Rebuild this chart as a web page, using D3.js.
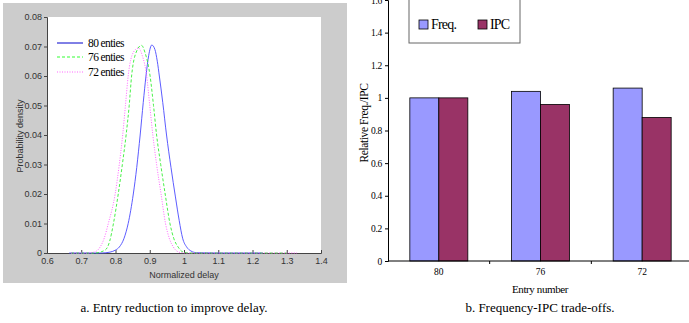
<!DOCTYPE html>
<html>
<head>
<meta charset="utf-8">
<script src="https://cdn.jsdelivr.net/npm/d3@7"></script>
<style>
  body { margin: 0; background: #fff; }
  svg { display: block; }
</style>
</head>
<body>
<svg id="chart" width="689" height="323"></svg>
<script>
// ---- left panel: probability density curves ----
const seriesNames = ["80 enties", "76 enties", "72 enties"];
const curve80 = [[0.665,0],[0.76,0],[0.784,0.0003],[0.80,0.001],[0.811,0.002],[0.825,0.005],[0.837,0.010],[0.852,0.020],[0.862,0.029],[0.872,0.040],[0.881,0.051],[0.889,0.060],[0.897,0.067],[0.906,0.0705],[0.915,0.069],[0.922,0.065],[0.928,0.060],[0.938,0.051],[0.949,0.040],[0.962,0.029],[0.975,0.019],[0.986,0.011],[0.996,0.005],[1.008,0.002],[1.02,0.0007],[1.037,0.0001],[1.10,0],[1.23,0]];
const curve76 = [[0.67,0],[0.74,0],[0.77,0.001],[0.783,0.004],[0.794,0.010],[0.808,0.020],[0.820,0.030],[0.831,0.040],[0.840,0.050],[0.847,0.060],[0.862,0.0685],[0.876,0.0704],[0.886,0.068],[0.901,0.060],[0.911,0.050],[0.920,0.040],[0.932,0.030],[0.945,0.020],[0.959,0.010],[0.970,0.005],[0.983,0.002],[0.998,0.0003],[1.02,0],[1.30,0]];
const curve72 = [[0.67,0],[0.72,0],[0.74,0.0004],[0.755,0.002],[0.767,0.005],[0.779,0.010],[0.799,0.020],[0.811,0.030],[0.821,0.040],[0.829,0.050],[0.837,0.060],[0.852,0.068],[0.867,0.0695],[0.878,0.067],[0.891,0.060],[0.900,0.050],[0.909,0.040],[0.920,0.030],[0.933,0.020],[0.946,0.010],[0.957,0.005],[0.969,0.002],[0.988,0.0002],[1.01,0],[1.33,0]];
const xTicksL = [0.6, 0.7, 0.8, 0.9, 1, 1.1, 1.2, 1.3, 1.4];
const yTicksL = [0, 0.01, 0.02, 0.03, 0.04, 0.05, 0.06, 0.07, 0.08];

// ---- right panel: bars ----
const categories = ["80", "76", "72"];
const freqValues = [1.0, 1.04, 1.06];
const ipcValues = [1.0, 0.96, 0.88];
const barSeries = ["Freq.", "IPC"];
const yTicksR = [0, 0.2, 0.4, 0.6, 0.8, 1, 1.2, 1.4, 1.6];

const svg = d3.select("#chart");
const SERIF = '"Liberation Serif", "Times New Roman", serif';
const SANS = '"Liberation Sans", Arial, sans-serif';

// =========== LEFT ===========
svg.append("rect").attr("x", 3).attr("y", 3).attr("width", 344).attr("height", 280).attr("fill", "#cccccc");

const xL = d3.scaleLinear().domain([0.6, 1.4]).range([47, 321]);
const yL = d3.scaleLinear().domain([0, 0.08]).range([253, 17]);

svg.append("rect").attr("x", 47).attr("y", 17).attr("width", 274).attr("height", 236).attr("fill", "#fff");

const axB = svg.append("g").attr("transform", "translate(0,253)")
  .call(d3.axisBottom(xL).tickValues(xTicksL).tickSize(-3).tickPadding(5).tickFormat(d3.format("")));
const axL = svg.append("g").attr("transform", "translate(47,0)")
  .call(d3.axisLeft(yL).tickValues(yTicksL).tickSize(3).tickPadding(2).tickFormat(d => d === 0 ? "0" : d3.format(".2f")(d)));
[axB, axL].forEach(a => {
  a.select(".domain").attr("stroke", "#444");
  a.selectAll(".tick line").attr("stroke", "#444");
  a.selectAll("text").style("font-family", SANS).style("font-size", "9px").attr("fill", "#333");
});

svg.append("text").attr("x", 184).attr("y", 278).attr("text-anchor", "middle")
  .style("font-family", SANS).style("font-size", "9px").attr("fill", "#333").text("Normalized delay");
svg.append("text").attr("transform", "translate(23,136) rotate(-90)").attr("text-anchor", "middle")
  .style("font-family", SANS).style("font-size", "9px").attr("fill", "#333").text("Probability density");

const lineGen = d3.line().x(d => xL(d[0])).y(d => yL(d[1])).curve(d3.curveMonotoneX);
const curves = [curve80, curve76, curve72];
const colorsL = ["#4a4aff", "#33ee33", "#ff55ff"];
const dashes = [null, "3,2", "1,1.5"];
curves.forEach((c, i) => {
  svg.append("path").datum(c).attr("d", lineGen)
    .attr("fill", "none").attr("stroke", colorsL[i]).attr("stroke-width", 0.9)
    .attr("stroke-dasharray", dashes[i]);
});

// legend
const legY = [43, 57, 72];
const legColors = ["#0000cc", "#33ff33", "#ff66ff"];
seriesNames.forEach((n, i) => {
  svg.append("line").attr("x1", 57).attr("x2", 83).attr("y1", legY[i]).attr("y2", legY[i])
    .attr("stroke", legColors[i]).attr("stroke-width", 1).attr("stroke-dasharray", dashes[i]);
  svg.append("text").attr("x", 88).attr("y", legY[i] + 3.5)
    .style("font-family", SERIF).style("font-size", "11.5px").style("letter-spacing", "-0.6px").attr("fill", "#000").text(n);
});

// =========== RIGHT ===========
const xR = d3.scaleBand().domain(categories).range([388, 693]).paddingInner(0).paddingOuter(0);
const yR = d3.scaleLinear().domain([0, 1.6]).range([261, 0]);
const barW = 29;

const g = svg.append("g");
categories.forEach((c, i) => {
  const cx = xR(c) + xR.bandwidth() / 2;
  g.append("rect").attr("x", cx - barW).attr("y", yR(freqValues[i])).attr("width", barW)
    .attr("height", yR(0) - yR(freqValues[i])).attr("fill", "#9999ff").attr("stroke", "#000").attr("stroke-width", 0.8);
  g.append("rect").attr("x", cx).attr("y", yR(ipcValues[i])).attr("width", barW)
    .attr("height", yR(0) - yR(ipcValues[i])).attr("fill", "#993366").attr("stroke", "#000").attr("stroke-width", 0.8);
});

const axRL = svg.append("g").attr("transform", "translate(388,0)")
  .call(d3.axisLeft(yR).tickValues(yTicksR).tickSize(3).tickPadding(3).tickFormat(d => d3.format("")(+d.toFixed(1))));
axRL.selectAll("text").style("font-family", SERIF).style("font-size", "9.5px").style("letter-spacing", "-0.3px").attr("fill", "#000");
axRL.select(".domain").attr("stroke", "#000");

svg.append("line").attr("x1", 388).attr("x2", 689).attr("y1", 261).attr("y2", 261).attr("stroke", "#000");
// boundary ticks between categories
categories.slice(1).forEach(c => {
  svg.append("line").attr("x1", xR(c)).attr("x2", xR(c)).attr("y1", 261).attr("y2", 264).attr("stroke", "#000");
});
categories.forEach(c => {
  svg.append("text").attr("x", xR(c) + xR.bandwidth() / 2).attr("y", 275).attr("text-anchor", "middle")
    .style("font-family", SERIF).style("font-size", "9.5px").text(c);
});

svg.append("text").attr("x", 540).attr("y", 293).attr("text-anchor", "middle")
  .style("font-family", SERIF).style("font-size", "11px").style("letter-spacing", "-0.4px").text("Entry number");
svg.append("text").attr("transform", "translate(368,123) rotate(-90)").attr("text-anchor", "middle")
  .style("font-family", SERIF).style("font-size", "11.5px").style("letter-spacing", "-0.4px").text("Relative Freq./IPC");

// legend box
svg.append("rect").attr("x", 409).attr("y", -1).attr("width", 111).attr("height", 44)
  .attr("fill", "#fff").attr("stroke", "#666").attr("stroke-width", 1);
const legX = [419, 478];
const legFill = ["#9999ff", "#993366"];
barSeries.forEach((s, i) => {
  svg.append("rect").attr("x", legX[i]).attr("y", 20).attr("width", 9).attr("height", 9)
    .attr("fill", legFill[i]).attr("stroke", "#000").attr("stroke-width", 0.8);
  svg.append("text").attr("x", legX[i] + 12).attr("y", 29)
    .style("font-family", SERIF).style("font-size", "14px").style("letter-spacing", "-0.8px").text(s);
});

// captions
svg.append("text").attr("x", 174).attr("y", 312).attr("text-anchor", "middle")
  .style("font-family", SERIF).style("font-size", "13px").text("a. Entry reduction to improve delay.");
svg.append("text").attr("x", 540).attr("y", 312).attr("text-anchor", "middle")
  .style("font-family", SERIF).style("font-size", "13px").text("b. Frequency-IPC trade-offs.");
</script>
</body>
</html>
